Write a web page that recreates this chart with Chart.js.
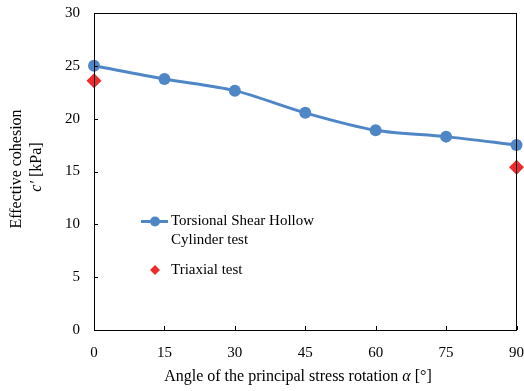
<!DOCTYPE html>
<html>
<head>
<meta charset="utf-8">
<script src="https://cdn.jsdelivr.net/npm/chart.js@4"></script>
<style>
  html, body { margin: 0; padding: 0; background: #fff; }
  #wrap { width: 524px; height: 391px; }
</style>
</head>
<body>
<div id="wrap"><canvas id="cohesionChart" width="524" height="391"></canvas></div>
<script>
// angle of principal stress rotation vs effective cohesion
const angles = [0, 15, 30, 45, 60, 75, 90];
const tshcCohesion = [25.0, 23.75, 22.65, 20.55, 18.9, 18.3, 17.5];
const triaxialAngles = [0, 90];
const triaxialCohesion = [23.6, 15.4];
const xTicks = [0, 15, 30, 45, 60, 75, 90];
const yTicks = [0, 5, 10, 15, 20, 25, 30];

const BLUE = '#4F86C6';
const RED = '#EE2C2C';
const FONT = '"Liberation Serif", "DejaVu Serif", serif';

// frame, inward ticks, axis titles and the legend
const decorations = {
    id: 'decorations',
    afterDraw(chart) {
        const { ctx, chartArea: a, scales: { x, y } } = chart;
        ctx.save();
        ctx.strokeStyle = '#000';
        ctx.lineWidth = 1;
        ctx.strokeRect(Math.round(a.left) + 0.5, Math.round(a.top) + 0.5,
            Math.round(a.right - a.left) - 1, Math.round(a.bottom - a.top));

        ctx.beginPath();
        xTicks.forEach(v => {
            const px = Math.round(x.getPixelForValue(v)) + 0.5;
            ctx.moveTo(px, a.bottom);
            ctx.lineTo(px, a.bottom - 4);
        });
        yTicks.forEach(v => {
            const py = Math.round(y.getPixelForValue(v)) + 0.5;
            ctx.moveTo(a.left, py);
            ctx.lineTo(a.left + 4, py);
        });
        ctx.stroke();

        ctx.fillStyle = '#000';
        ctx.textBaseline = 'middle';

        // x axis title with italic alpha
        const xt1 = 'Angle of the principal stress rotation ';
        const xt3 = ' [°]';
        ctx.font = '16px ' + FONT;
        const w1 = ctx.measureText(xt1).width;
        const w3 = ctx.measureText(xt3).width;
        ctx.font = 'italic 16px ' + FONT;
        const w2 = ctx.measureText('α').width;
        let sx = 298 - (w1 + w2 + w3) / 2;
        const ty = 377;
        ctx.textAlign = 'left';
        ctx.font = '16px ' + FONT;
        ctx.fillText(xt1, sx, ty);
        ctx.font = 'italic 16px ' + FONT;
        ctx.fillText('α', sx + w1, ty);
        ctx.font = '16px ' + FONT;
        ctx.fillText(xt3, sx + w1 + w2, ty);

        // y axis title, two rotated lines
        ctx.save();
        ctx.translate(17, 169);
        ctx.rotate(-Math.PI / 2);
        ctx.textAlign = 'center';
        ctx.fillText('Effective cohesion', 0, 0);
        ctx.restore();

        ctx.save();
        ctx.translate(37, 167);
        ctx.rotate(-Math.PI / 2);
        ctx.font = 'italic 16px ' + FONT;
        const cw = ctx.measureText('c′').width;
        ctx.font = '16px ' + FONT;
        const kw = ctx.measureText(' [kPa]').width;
        const start = -(cw + kw) / 2;
        ctx.textAlign = 'left';
        ctx.font = 'italic 16px ' + FONT;
        ctx.fillText('c′', start, 0);
        ctx.font = '16px ' + FONT;
        ctx.fillText(' [kPa]', start + cw, 0);
        ctx.restore();

        // legend
        ctx.font = '15px ' + FONT;
        ctx.textAlign = 'left';
        ctx.strokeStyle = BLUE;
        ctx.lineWidth = 3;
        ctx.beginPath();
        ctx.moveTo(141, 221.5);
        ctx.lineTo(168, 221.5);
        ctx.stroke();
        ctx.fillStyle = BLUE;
        ctx.beginPath();
        ctx.arc(155, 221.5, 5, 0, Math.PI * 2);
        ctx.fill();
        ctx.fillStyle = '#000';
        ctx.fillText('Torsional Shear Hollow', 171, 221.5);
        ctx.fillText('Cylinder test', 171, 240.5);

        ctx.fillStyle = RED;
        ctx.beginPath();
        ctx.moveTo(155, 265);
        ctx.lineTo(160, 270);
        ctx.lineTo(155, 275);
        ctx.lineTo(150, 270);
        ctx.closePath();
        ctx.fill();
        ctx.fillStyle = '#000';
        ctx.fillText('Triaxial test', 171, 270);
        ctx.restore();
    }
};

const ctx = document.getElementById('cohesionChart').getContext('2d');

const cohesionChart = new Chart(ctx, {
    type: 'line',
    data: {
        datasets: [{
            label: 'Torsional Shear Hollow Cylinder test',
            data: angles.map((a, i) => ({ x: a, y: tshcCohesion[i] })),
            borderColor: BLUE,
            backgroundColor: BLUE,
            borderWidth: 3,
            pointRadius: 6,
            pointHoverRadius: 6,
            pointBorderWidth: 0,
            tension: 0.3,
            clip: false
        }, {
            label: 'Triaxial test',
            data: triaxialAngles.map((a, i) => ({ x: a, y: triaxialCohesion[i] })),
            showLine: false,
            pointStyle: 'rectRot',
            pointRadius: 7.5,
            pointHoverRadius: 7.5,
            pointBorderWidth: 0,
            backgroundColor: RED,
            borderColor: RED,
            clip: false
        }]
    },
    options: {
        responsive: false,
        animation: false,
        layout: { padding: { top: 13, right: 7, left: 0, bottom: 0 } },
        plugins: {
            legend: { display: false },
            tooltip: { enabled: false }
        },
        scales: {
            x: {
                type: 'linear',
                min: 0,
                max: 90,
                afterFit: s => {
                    s.height = 61;
                    s.paddingLeft = 0;
                    s.paddingRight = 0;
                },
                afterBuildTicks: s => { s.ticks = xTicks.map(v => ({ value: v })); },
                grid: { display: false, drawTicks: false },
                border: { display: false },
                ticks: {
                    padding: 14,
                    color: '#000',
                    font: { family: FONT, size: 15 }
                }
            },
            y: {
                min: 0,
                max: 30,
                afterFit: s => {
                    s.width = 94;
                    s.paddingTop = 0;
                    s.paddingBottom = 0;
                },
                afterBuildTicks: s => { s.ticks = yTicks.map(v => ({ value: v })); },
                grid: { display: false, drawTicks: false },
                border: { display: false },
                ticks: {
                    padding: 14,
                    color: '#000',
                    font: { family: FONT, size: 15 }
                }
            }
        }
    },
    plugins: [decorations]
});
</script>
</body>
</html>
